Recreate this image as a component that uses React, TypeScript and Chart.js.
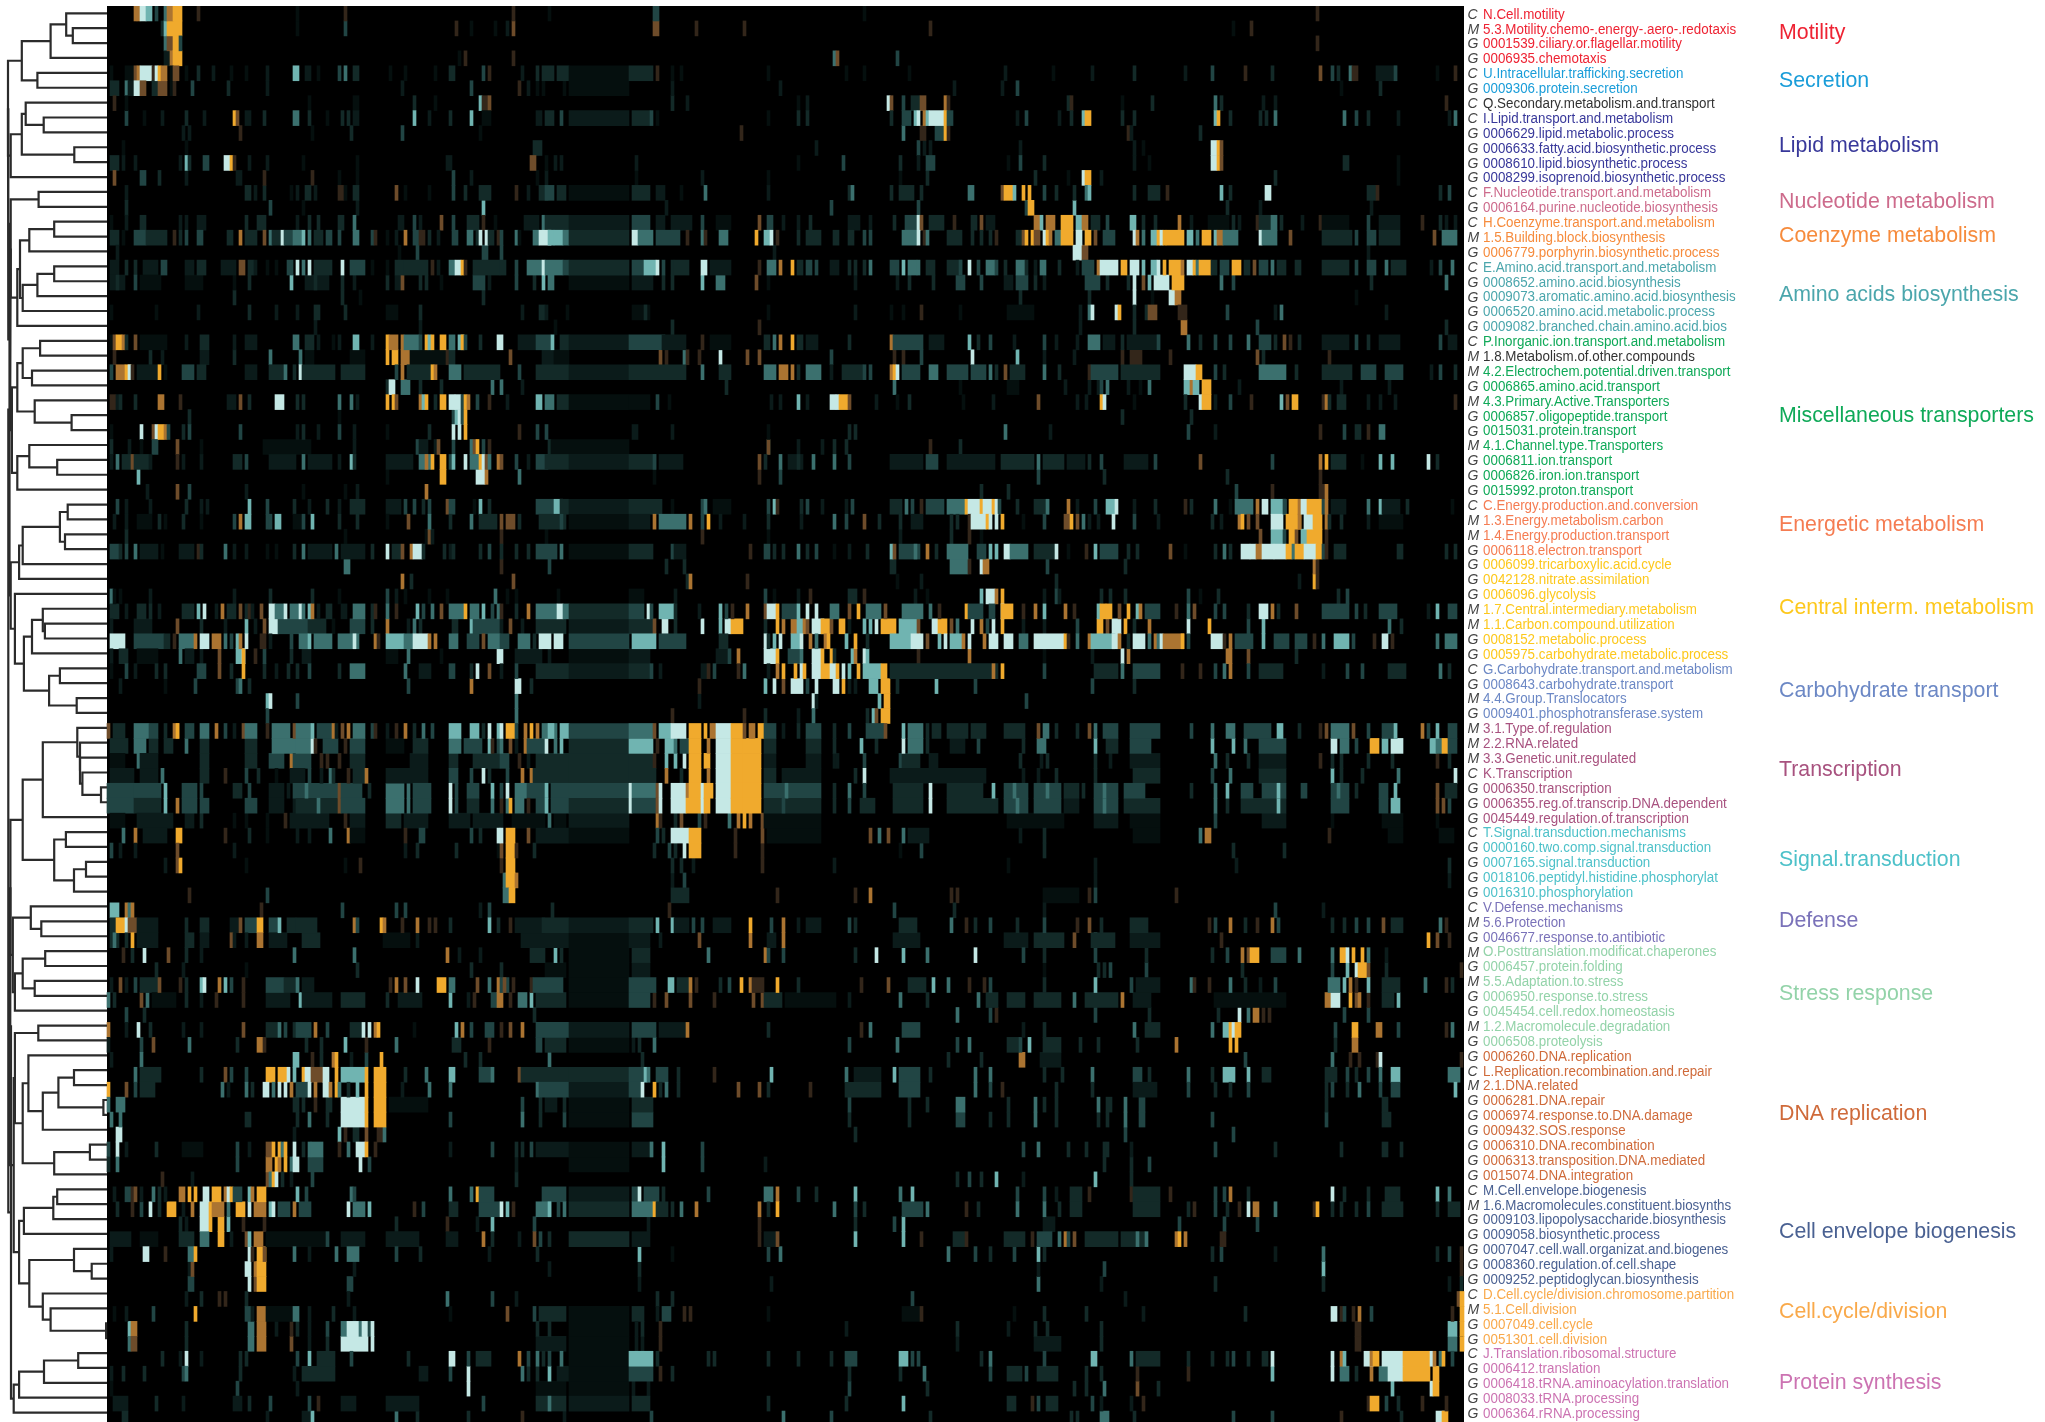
import React, { useEffect, useRef } from "react";
import { Chart, registerables } from "chart.js";

Chart.register(...registerables);

// ---- row labels ----
const rowTypes = "CMGGCGCCGGGGCGCMGCGGGGCMMGMGGMGGGCMMGGGGMMGGCGMGMMMCGGGCGGGGCMGMGMGGMGGCMGGGGGGCMGGGGGCMGGCGGGG".split("");
const rowNames = [
  "N.Cell.motility","5.3.Motility.chemo-.energy-.aero-.redotaxis","0001539.ciliary.or.flagellar.motility","0006935.chemotaxis",
  "U.Intracellular.trafficking.secretion","0009306.protein.secretion","Q.Secondary.metabolism.and.transport",
  "I.Lipid.transport.and.metabolism","0006629.lipid.metabolic.process","0006633.fatty.acid.biosynthetic.process","0008610.lipid.biosynthetic.process","0008299.isoprenoid.biosynthetic.process",
  "F.Nucleotide.transport.and.metabolism","0006164.purine.nucleotide.biosynthesis",
  "H.Coenzyme.transport.and.metabolism","1.5.Building.block.biosynthesis","0006779.porphyrin.biosynthetic.process",
  "E.Amino.acid.transport.and.metabolism","0008652.amino.acid.biosynthesis","0009073.aromatic.amino.acid.biosynthesis","0006520.amino.acid.metabolic.process","0009082.branched.chain.amino.acid.bios",
  "P.Inorganic.ion.transport.and.metabolism","1.8.Metabolism.of.other.compounds","4.2.Electrochem.potential.driven.transport","0006865.amino.acid.transport","4.3.Primary.Active.Transporters","0006857.oligopeptide.transport","0015031.protein.transport","4.1.Channel.type.Transporters","0006811.ion.transport","0006826.iron.ion.transport","0015992.proton.transport",
  "C.Energy.production.and.conversion","1.3.Energy.metabolism.carbon","1.4.Energy.production.transport","0006118.electron.transport",
  "0006099.tricarboxylic.acid.cycle","0042128.nitrate.assimilation","0006096.glycolysis","1.7.Central.intermediary.metabolism","1.1.Carbon.compound.utilization","0008152.metabolic.process","0005975.carbohydrate.metabolic.process",
  "G.Carbohydrate.transport.and.metabolism","0008643.carbohydrate.transport","4.4.Group.Translocators","0009401.phosphotransferase.system",
  "3.1.Type.of.regulation","2.2.RNA.related","3.3.Genetic.unit.regulated","K.Transcription","0006350.transcription","0006355.reg.of.transcrip.DNA.dependent","0045449.regulation.of.transcription",
  "T.Signal.transduction.mechanisms","0000160.two.comp.signal.transduction","0007165.signal.transduction","0018106.peptidyl.histidine.phosphorylat","0016310.phosphorylation",
  "V.Defense.mechanisms","5.6.Protection","0046677.response.to.antibiotic",
  "O.Posttranslation.modificat.chaperones","0006457.protein.folding","5.5.Adaptation.to.stress","0006950.response.to.stress","0045454.cell.redox.homeostasis","1.2.Macromolecule.degradation","0006508.proteolysis",
  "0006260.DNA.replication","L.Replication.recombination.and.repair","2.1.DNA.related","0006281.DNA.repair","0006974.response.to.DNA.damage","0009432.SOS.response","0006310.DNA.recombination","0006313.transposition.DNA.mediated","0015074.DNA.integration",
  "M.Cell.envelope.biogenesis","1.6.Macromolecules.constituent.biosynths","0009103.lipopolysaccharide.biosynthesis","0009058.biosynthetic.process","0007047.cell.wall.organizat.and.biogenes","0008360.regulation.of.cell.shape","0009252.peptidoglycan.biosynthesis",
  "D.Cell.cycle/division.chromosome.partition","5.1.Cell.division","0007049.cell.cycle","0051301.cell.division",
  "J.Translation.ribosomal.structure","0006412.translation","0006418.tRNA.aminoacylation.translation","0008033.tRNA.processing","0006364.rRNA.processing",
];

// ---- functional groups ----
const groupNames = ["Motility","Secretion","Lipid metabolism","Nucleotide metabolism","Coenzyme metabolism","Amino acids biosynthesis","Miscellaneous transporters","Energetic metabolism","Central interm. metabolism","Carbohydrate transport","Transcription","Signal.transduction","Defense","Stress response","DNA replication","Cell envelope biogenesis","Cell.cycle/division","Protein synthesis"];
const groupColors = ["#ee2333","#1a9dd9","#38389a","#cd6b8c","#f68b3c","#4ba6ac","#0fa958","#f57c52","#fdc81c","#6c88c5","#a8527f","#4dc1c9","#7a72b9","#93d3a9","#cf6a3a","#4a6192","#f9a94a","#cc73b2"];
const groupFirst = [0,4,7,12,14,17,22,33,37,44,48,55,60,63,70,79,86,90];
const groupLast = [3,5,11,13,16,21,32,36,43,47,54,59,62,69,78,85,89,94];
const groupLabelRow = [1.3,4.5,8.85,12.6,14.9,18.8,26.9,34.2,39.75,45.3,50.6,56.6,60.7,65.6,73.6,81.5,86.9,91.6];
const uncoloredRows = [6, 23];

// ---- heat levels: teal a..g, brown to orange n,m,l,s ----
const levelColors: Record<string, string> = {
  a: "#050f0e", b: "#0b1b1a", c: "#132a28", d: "#214544", e: "#3b706e", f: "#70b4b1", g: "#c5e8e5",
  n: "#33261a", m: "#6e4c2a", l: "#ab7431", s: "#f0aa2d",
};

// ---- heat values, one string per row: column[-column]level ----
const heatRows = [
"9l 10l 11-12g 13-14f 16d 19e 20-21l 22-24s 30n 63a 79n 135n 147a 182-183d 252a 403n",
"18c 19f 20-24s 63a 79d 116n 121a 129a 133b 135m 182-183m 196n 212n 274n 375a 381n",
"19e 20-21m 22-23s 24d 403n",
"19-20b 21l 22-24s 117a 119n 135n 242e 243m 263d",
"1a 6-8a 9m 10l 11-14g 15n 16g 17s 18-19l 21a 22-23m 26a 30c 35b 41a 46a 53b 62-63f 66-67b 70a 77d 79e 82-83c 94a 99a 109a 114-115c 125d 127n 138b 143c 145-148c 150-153c 154-173a 174-181c 183n 188a 191a 220a 246a 252a 267a 299b 315a 328b 342c 359b 368d 379n 388c 404m 408d 410c 414e 415-416n 423-429b 429d 443a 449n",
"1-3c 6e 7-8b 9-10g 11-12m 15-16c 17-19m 21a 22n 28d 40c 53b 98b 121d 137n 140b 143a 145a 152a 154-173a 188b 224b 282b 298b 303d 411a 424c",
"2n 6a 67a 82-83a 102c 109a 124f 125-126n 127m 188c 193b 230a 233b 260g 261m 265d 268-270c 271-272m 279l 280n 320c 321n 338a 348c 369e 371c 385b 389b 446n",
"6d 12a 18b 26c 32b 42s 43m 46-47b 52c 62-63e 67c 73a 78c 80c 82-83b 102f 107b 114c 121f 125-127a 143-144b 146-148c 151d 154-173b 175-180c 181d 183a 220a 230c 233c 261c 265-267d 269f 270g 272l 273f 274-278g 279s 280-281d 303b 306d 317b 321c 325f 326-327s 338c 342c 369f 370s 374c 384c 386c 389e 412e 416d 420c 430b 447b 449e",
"25b 27b 44n 68a 81c 98d 124a 211n 265e 271-272n 276-278d 279s 280n 340n 341b 364c",
"5a 26a 142-144c 236b 270d 272b 274b 304b 342b 345a 368-369g 370s 371m",
"1-3c 5b 9b 24b 26f 27c 32-33d 39-40g 41s 42n 47b 53b 65a 83a 113-114b 141-142m 146a 149b 151b 176b 230a 245d 264c 270b 273-275d 300a 304d 312c 342b 347a 368-369g 370s 371m 412-413c 430a",
"2m 11-12d 17c 26b 43-44b 52n 68n 77a 83a 115d 121b 143a 146b 176a 198b 220a 264a 273c 309c 320a 325g 326-327s 331b 389c 430a",
"6b 46-47c 49b 52c 61a 63b 66-67c 69b 77-78n 79a 82-83c 96m 99a 107a 115d 119c 124-127c 136n 140b 144-146c 146-148d 150-152c 154-173a 175-180c 183-185b 191a 199e 220b 247c 248e 261c 264-268c 271c 287-288e 298m 299-301s 302f 305s 307s 312d 316c 322c 326e 327f 342c 347-350c 353n 371f 374c 386-387g 420-422c 423n 444c 447d",
"6c 54d 65a 83b 125f 186b 241d 270d 306d 307-308s 322f 373c 384b 421b",
"1a 6b 11-12c 24b 26b 30-32b 46c 50-52c 63b 67c 70c 77-78c 82e 97-98b 102d 104b 111m 115d 120-123c 125n 129a 139-143b 145e 146-153c 154-173b 175-180d 183-185b 188-194b 198d 203-207a 217m 220-221d 225b 230b 234c 247-250b 254b 262c 266-269d 270g 271m 274-278c 282n 288-289c 291m 293-295b 309-310l 311f 313-315l 318-321s 323-324f 325-326l 328-330c 333d 341-342f 345c 349c 357l 361b 367-373a 375c 377b 383n 384-387c 388-389e 391c 398b 404n 405-413a 420d 424-430b 438n 444c 446b 449b",
"1-3c 5a 9-12d 13-19c 22n 24c 26d 30-31d 40-41c 44l 46-49c 52m 54e 55-57c 58g 59-61d 62-64e 65f 67e 69-71c 73-74d 77d 82-83e 88d 89n 93a 96b 99l 102-103d 104-105n 107c 110b 115-116d 120-121e 123c 124g 126g 127-128c 130n 131d 136e 137a 142-143e 144-147g 147-148f 149-151f 152-153e 154-173c 175-176g 177-181e 183-190d 193n 198e 199n 204-206e 216s 219-220f 221g 223n 230c 233-237c 242-243c 247-248c 252d 254d 265-269e 270g 272n 273e 280-284c 288c 291c 294c 296n 303-304c 305m 306s 308s 309-310m 312g 313s 314l 316-317e 318-321s 323-324g 326-327s 329m 332-335d 342g 343l 345e 348-349f 350s 351g 352s 353-358s 360-361f 363e 365-367s 369f 370-371l 372-376e 384g 385-389e 394m 405-414c 416d 420-422d 424-430c 442m 445-449e",
"3b 97a 103d 125-126d 131d 222b 322-324g 325-326m 420b",
"1-3b 6c 9c 12-16b 18-19d 26-28b 30-32c 38-42b 44-45m 47-48c 49b 53a 56a 60-61d 63g 65e 67g 69-74c 78g 81-85d 88a 93a 96-98c 99-106c 108n 110b 114-115e 116-117g 118s 119n 122-130c 131-132c 136d 140-144e 145g 146-151e 152-153d 154-173c 175-178d 179-182f 183g 185d 188c 189-193c 198-199g 201-207b 217n 220-222e 224l 228s 230-231c 233-234d 236d 241-243b 247c 249c 252c 254e 261-263d 265f 267-269e 270e 273-275c 280-284c 284d 287g 290d 293-295e 296d 299c 303-305e 306c 309b 311-312e 317c 323b 325-328d 330l 331-336g 338-339s 341-343g 345f 348-349f 350g 352s 354-357s 358l 360-361g 362s 363e 364-367s 368-369c 371-373d 375-377s 379-380c 382m 384-386d 388e 390-392c 396-397c 405-413c 416d 420-422d 426e 428-432c 441b 444d 448e",
"1-5b 3c 9d 11-17a 26-31a 42a 47c 61f 66-73b 69c 78c 82b 93c 96-97b 98m 104c 106c 111a 122-125d 127b 136d 142c 145f 147-148e 154-173a 175-181b 185c 188c 198f 203-205e 216m 220a 249b 263b 267c 275c 283-285d 291d 299-301b 303-306d 309c 312b 326-330d 333c 340c 342g 345m 347f 349-353g 355-358s 371e 375d 421c 446e",
"42c 78c 84a 125c 304c 327c 342g 348a 354-355g 356-357l 416a",
"1a 16a 30b 47c 56b 63b 69-70c 79c 93-96a 104c 138b 144-145c 146b 153a 175-180a 179c 220a 249b 261a 265a 271n 284a 300-308a 324b 327e 328g 336g 337s 342c 346c 347-349m 357-359n 373d 389b 391e 426b",
"69b 104b 149a 188c 217n 324b 342c 358-359l 383d 446c",
"1a 2m 3-4s 5l 6c 9m 11-19a 26b 31-33c 42b 46-49b 62-63e 66-68c 70b 75a 77b 82-83f 88b 93s 94-96l 98l 99-103e 104d 106s 107f 108s 111-112s 114-115e 117-118f 118s 119d 124c 130-131g 137-142b 143-147d 148f 151-153c 154-173b 174-185d 185-192b 198n 201-207a 219-220c 222e 224l 228s 230-231c 233-236b 247c 261l 262-271d 274-278b 287f 290c 294d 302b 312d 316b 323b 327-330e 332-335b 338c 340-350b 350d 360e 364c 369d 374d 380e 384-387d 389c 392m 394n 397c 405-413b 416d 420c 424-430b 444d 447-449b",
"2n 14c 18b 31-33b 42c 54e 64e 66-68a 81-85a 93s 95-96s 98-100l 101-112a 113n 114-115c 134m 145-148b 149-153a 184m 186n 192e 193n 197n 204g 213m 217m 241d 262n 265n 271d 288g 303f 312b 322b 338n 341-344n 354n 383m 385c 407n",
"1d 3-5l 6-7s 7g 8n 10-16b 17s 19a 25-28d 30-32c 46-49b 54-58c 59e 62c 64g 65-75c 78-85c 96d 98l 100-107c 108s 109l 114-117e 119-130c 137d 143-153c 154-173b 174-192c 198e 204-207c 219-222e 224-226l 228l 230c 233-237e 241b 245-251c 252d 254d 261l 262s 263g 265-270d 274-276e 280-286d 288-292d 294e 296c 299m 301-305c 312e 317c 327n 328-336d 338-350c 359-362g 363-364s 369d 372c 384-392e 396c 405-414c 418-422d 426-431d 441b 444d 449c",
"93c 94-95g 98-100e 104c 111c 128e 131e 138b 206c 262e 284a 300-303a 319b 327b 330b 331d 333e 340b 344a 347e 359-360f 361l 362-363f 365-367s 377b 411b 427b",
"1-2n 3b 4c 9c 17-18l 24n 40-42b 44m 47c 56-58g 63c 65c 77e 81e 83b 93s 95s 96m 104l 105f 106s 109c 111-112s 114-115g 116-117g 118d 119s 120l 123d 127n 133b 143-144f 146-148e 150-153c 154-173a 174-180a 183d 187a 221b 224b 230f 233b 241-242g 243g 244-246s 247m 256b 263a 267c 285a 295b 310m 323b 326b 331s 332g 342a 359c 364g 365-367s 369b 374d 381n 391f 393m 395-396s 405n 406l 407c 410-412c 420b 424b 429b 449n",
"27c 77a 115d 116f 117g 118d 119s 338c 361c",
"1a 11g 15m 16g 17-18s 19l 20d 25c 27d 44d 63b 65c 70b 77d 82b 93a 107c 115g 117g 119s 137n 143d 146d 175-176b 188b 220a 247c 249c 299e 314b 360d 369b 404n 412d 416-417c 420n 424-425e",
"1c 7b 11a 15-16d 23m 31a 52-67a 82b 103d 104-106b 109b 110m 115d 121e 122m 123s 125d 127n 147c 148-173a 220d 220m 230b 238b 242c 246c 274n 284c",
"1b 3e 5-7c 8m 9-13c 14b 23n 25b 31b 42-44c 46d 54-62b 65e 67-74b 77b 81f 82c 93-101b 104-107e 106l 108s 111-112s 114d 115f 119g 121-123e 124s 125g 126m 127e 130l 131m 136d 140b 143-146d 146-153c 154-173b 174-182c 182d 184-191b 217m 219c 224e 227-231b 230c 235e 242e 247d 261-271b 273-276d 280-295b 298-308c 310e 312-318c 320-325b 327c 331d 339-346b 349d 364m 388d 404l 406s 408-412c 418a 424f 428f 440g 443c",
"10f 93a 111-112s 123-125g 126l 137e 182a 217n 224d 310d 332c 373c 404n",
"13b 23m 27d 46b 65a 79a 83b 106l 291c 300c 376d 388n 404-405n 406l",
"3d 6b 14b 26c 31b 33b 47f 53d 62c 67b 73c 77b 81-85c 93-97b 99d 102d 105c 107d 113m 114-115d 122a 124f 127c 143-148d 149-151f 151-153c 154-173b 174-184c 188a 198d 199e 202-207a 220d 222f 223n 231c 233d 238b 246b 248d 261-264c 266e 268d 271n 273-278d 280-285e 286s 287-290g 291s 292-294g 295s 296g 297d 303c 309-313c 313e 320l 323b 329d 333-335f 336g 342b 349c 359n 361c 369e 389e 374a 376-381e 383l 385-386g 388-392f 392d 394-396s 397l 398-399g 400-404s 405d 406l 408-412b 420e 424f 425-430b 433c 448a",
"2b 6b 10-14a 17c 19a 25c 31a 42d 44l 46-47f 53d 54d 56-57f 62-64a 65d 68f 77c 83c 93a 100m 107e 114c 121e 124-129c 131m 133-135m 137c 144-152c 151d 154-173a 174-180b 182l 184-192e 194l 198d 200s 204b 212b 220c 231b 242e 246d 252m 257c 264c 268-271b 281c 283c 287n 288-292g 293s 294g 296g 298s 305a 312d 319-320m 321s 323m 325e 327b 330b 335g 342d 350b 368c 371b 377l 378s 380m 383m 388-391g 393-397s 397l 399-401g 402-404s 406l 407c 411c 420b 424-431a",
"6c 79a 106a 107m 108b 131n 146a 198n 220a 264b 281c 287n 291a 384m 388-391f 392d 394-395s 396m 398-399f 400-404s 406n",
"1-3d 4c 6d 9e 11-16b 18a 24-28b 30n 31c 39e 42b 46b 53a 56a 62c 65e 67-74b 76e 78-85b 88c 93g 95-97c 98m 101l 102-104g 105c 112c 114b 115c 124c 127d 131c 136c 140c 143-149d 151e 154-173a 174-181c 188d 189-192b 214n 219-220d 222c 225c 230e 233c 236d 242a 247b 253c 261f 262m 264-270d 269e 273l 276c 280-286e 290-292d 294f 296f 299-300g 301-306e 309-315c 316g 320a 326n 329f 331-336d 340c 343c 354m 359a 369c 372e 374c 378-380g 381-382g 383-384l 385-388g 389-392g 393-394s 395e 396-398s 399-402g 403-404s 405d 406n 409-412c 430-431c 446c 449c",
"79-80e 131n 147d 186c 192c 261-262c 281-286e 287n 291g 292-293l 313d 339c 402l 403n",
"98l 101c 135m 193c 194l 213n 263a 271b 316c 397b 402s 403n",
"1e 2a 4a 14b 42b 54c 68c 77a 93d 96b 99a 107a 113a 129e 133a 136a 150a 174-178a 189b 219d 222a 230b 234n 247-249c 252n 269b 273a 291f 293-295g 296l 298s 312b 316d 317b 331c 334c 339c 360d 364a 370c 410c 413d",
"1-3c 6b 10-12c 14c 17b 25-28c 30f 32g 36b 38l 40-42c 44m 46c 47n 48b 51m 54-55g 56-58e 59g 61-63e 64g 65e 67f 68l 70b 73-74c 78-79b 82-85e 88c 89n 93e 96n 103f 105d 108e 111m 114-118e 119s 121-123e 125f 128d 130e 131n 136c 140l 143-149e 150-151g 152-153e 154-173c 174-178d 180g 181d 184-188f 189c 197b 204f 206d 208n 213l 219m 220-222g 223s 225-229d 230f 233g 236g 241-243e 247m 250s 253-257e 259m 265-271e 274e 277n 286s 287-291d 294-295d 298g 298-301s 305n 309l 312f 319l 322n 330f 331-332s 333-334s 337m 340s 343f 344l 346-350d 356n 360e 362m 369d 372d 380c 384-386g 388l 390c 396m 405-413d 416d 419c 424-429d 440b 443f 447-449d",
"1b 9-14b 23m 31c 39b 46f 49b 52m 54-56g 57-66d 67-72c 75a 81-85d 88c 93l 100b 102e 104c 115-116c 121f 122-130d 131b 134m 138b 143-152c 154-173b 174-181c 182m 185-186g 189c 198g 204f 206-207g 208-211s 219c 223s 225l 228-229l 230-231f 232l 233m 235-238g 238-240s 241m 244-245s 247b 252f 254f 256g 258-262s 264-269f 270m 275-276g 277-279s 281m 283e 288g 291l 293d 295g 298s 305b 312b 323d 330-331s 333m 335-337g 339s 342c 347l 360g 367s 380d 385f 427e 431c",
"1-5g 9-18d 19-20c 22n 24-28e 29l 31-33g 35-37l 39e 41d 43f 44l 46g 51-52n 54b 61d 64-66e 67f 69-74e 77-83e 82g 89l 90n 93-98f 99-102e 102-106g 107l 109l 114-116e 120-123d 125m 127-130e 131-133d 137-140e 142c 144-147g 149-151g 154-173d 175-182f 184-192d 204-206c 219g 220c 222f 224g 228-230f 231g 234l 236e 239l 240s 246f 249s 253c 261-267f 268-270g 271g 273m 277f 279g 281-284f 285l 287g 292l 294-296g 299-301g 304-306e 309-318g 319s 320n 323e 327l 328-335f 335-336g 337l 340c 342-345g 347e 349l 350e 351g 352-358l 358s 360d 368-371g 372n 374l 376-381d 385f 389-393d 396-399d 402n 405e 409-413f 415d 422n 425-426g 428n 443e 446-449e",
"1b 4-6c 10-16a 24e 26-28b 31b 37m 43-44f 45g 45s 49n 52d 61c 65-67b 93-96a 100e 111a 130g 131g 136-144b 147b 154-173a 174-180b 203-206b 207d 210l 219-222g 223s 227-230d 231e 235-237g 238s 241s 242c 248f 249l 252g 253f 270n 287l 338g 340l 328b 373-374l 380m 312a 396c",
"1a 6d 9b 16c 19c 30-32d 37m 41c 45s 52c 56b 60c 63c 67d 77c 81-85e 99e 104-107b 114-115d 121c 123g 127m 131b 136d 143-153c 154-173b 174-180c 181d 184b 198-200b 200n 202d 210n 212e 220b 223l 225s 229s 231g 232s 235-237g 238-240s 241-242g 243s 245g 247f 250s 252-257f 258-259s 261-296c 295l 298s 312d 329-336c 338e 342-350d 358n 364n 369d 372e 374l 380d 384-391c 405b 413d 418d 427-432c 444e 447c",
"4b 19a 29d 43d 44e 47c 100d 121l 136-137g 141c 197n 219f 222g 225m 228-231g 233d 236g 242-243g 245s 247b 249b 254-256f 258-260s 263c 276f 289d 328d 342c",
"53f 54g 63d 136e 197b 235g 236b 257f 259-260s 306d",
"53d 136e 188n 212n 219c 230b 235e 253c 255f 256m 258-260s",
"0m 2-5c 9-13e 14-16d 19c 22-23l 23s 26-28d 31-33e 36l 39d 42b 45m 46-49e 53n 55-60e 62m 63-67e 68f 70-74d 75l 76b 78m 80l 82-85e 88d 89n 93b 96n 99l 102c 105e 108d 114-117f 121-123f 125c 127g 130f 131g 133-135s 136d 139l 141s 143l 145-149e 147-148f 151-153f 154-173d 174-181e 182m 184-187f 188-192g 194-197s 199s 201l 202l 203-207g 208-211s 212m 214l 215l 217-218s 219-222d 225b 230c 233-237d 242c 247d 253-258d 259m 265f 267-271e 273c 275-277c 280-286c 288-292c 299-305c 310m 312-313e 316c 323c 327m 329e 332-336d 341-350d 361d 368e 373-375e 379-387d 390-391f 397c 404n 406m 408-413e 415m 420d 425-429d 429f 438l 440d 443f 447-449d",
"1-6c 9-12e 14-16c 19-21c 26e 31-33c 46-49c 55-62e 63-67e 68g 69n 72-76d 79n 81-85d 93-98a 102-106c 114-117e 119-124d 127f 128n 130d 131e 134m 136b 139l 140-145d 146g 149e 151f 154-173c 174-181f 183n 186-188f 189e 191-193d 194-197s 200l 203-207g 208-211s 212-217s 219-222c 233-237c 242c 273c 251f 256c 265g 267-271e 281-285b 290d 305c 310-312e 329f 333-336c 341-347d 368f 375f 379e 384-392d 408-409g 411-413e 416d 421-423s 425-426f 428-431g 441-442f 443-444e 445-446s 447-449d",
"1-5a 10e 11-16b 31-33c 46-49c 54-58d 61l 62-67d 71n 73n 77n 81-85c 101-106b 114-116c 122-130c 131-133d 137n 140b 143-153c 154-173c 174-181c 182n 186f 189f 192g 194-197s 199-200s 203-207g 208-211s 212-217s 219-222b 233-237b 242b 243b 252d 264d 265-270c 274-276b 304c 311b 313c 329c 334b 341-350b 369e 373c 380c 384-392b 404n 408c 411c 420c 428c 443n 447c",
"1-8b 11-16b 18e 31-33c 39n 46d 50c 56a 61-65b 67d 71b 74e 75c 80n 82-85c 86l 93-106b 114-116d 121d 125g 127c 133d 138l 141l 142-153c 154-173c 174-182c 186l 191c 194-197s 200l 203-207g 208-211s 212-217s 219-222c 225-237b 249c 252g 261-292b 305b 310b 316c 329c 342-350c 368d 374e 384-392c 408f 411c 418c 430e 449g",
"0-8d 9-17d 19f 25-29d 31d 42-44c 47d 54-58b 60b 62-76d 66e 77m 78-84d 87c 93-98e 100e 102-107d 114g 116d 120-123d 128f 131d 133g 136-139e 140-146d 146f 148-153d 154-173d 174g 175-182e 183m 184g 188-192g 193l 194-197s 198g 199-201s 203-207g 208-211s 212-217s 219-237d 226e 242c 247e 252d 262-271c 274g 280-291c 295f 299-306d 302e 309-317d 313e 319-323c 325c 329-336d 332e 339-345d 361c 369e 373f 378-381d 385-392d 390f 398-399d 408-413d 410e 416c 424-426d 429f 443m 446-449c",
"0-8d 9-17c 19f 23l 25-29d 31-33d 46-49d 54-58b 62b 63-76c 70e 77m 78-85d 93-98e 100e 102-107d 114g 116d 120-123c 128e 131n 133e 134s 136-138e 140n 143-146d 146f 148-153d 154-173c 174g 175-182d 183m 184g 188-192g 193-197s 198g 199-200s 203-207g 208-211s 212-217s 219-237c 225d 242c 247d 251-255c 262-271c 274g 280-296c 299-306d 303e 309-317d 319-323b 329-336d 332e 339-350c 369e 373c 378-392c 390f 408-413d 424-426d 428-430f 443m 445m 447d",
"1-5a 10-21b 26-28b 31c 42a 46a 53a 59n 61-73b 79n 81-85b 93-97c 99-106b 114-120b 122-131b 135-145a 147e 149-152a 154-173b 183l 184n 189c 191m 197d 199n 207e 210l 212s 214l 218m 219-237a 300-318a 329-336b 341-350a 369d 385-392b 408a 425-431a 443a",
"5e 9l 12-19b 23-24s 39n 47c 53a 63b 67b 74e 80l 81-85a 99n 104-105d 121d 124c 130g 131g 133-135s 140m 143-153b 154-173a 183d 185c 188-193g 194-197s 209n 218m 220-237a 254m 257e 260m 265e 267-273b 304b 312c 342-350a 364e 366-367l 407n 427-431a 444-448a",
"1d 4b 9b 23m 42b 99b 103c 116c 130a 131m 133-135s 136n 142c 182c 187d 189c 192g 194-197s 209n 218n 264a 271d 312c 375c 392c",
"19b 23m 24s 46a 79a 84n 131n 133-135s 188c 191c 195b 218n 242b 300a 329b 376b 447c",
"132-133e 133-135s 136l 188b 192d 329b 447b",
"27n 53d 132-133e 134-135s 188-193c 223n 249n 254l 281n 283n 312-323a 327n 329d 356n",
"1-3f 6l 7e 8l 51n 78d 96d 99d 124b 127d 148c 187n 262d 282c 312b 389d 405b",
"1-3c 3-5s 6g 7-9m 10-16b 26c 31-33c 41-43b 44m 46-49d 50-51s 54-56d 57f 60-62c 63-69c 82l 83d 91s 92l 98n 103l 107n 109n 114c 127f 130c 134n 136-145b 145-153c 154-173b 174-181c 183f 188f 189-193b 195d 198d 202-207b 214s 221d 225l 230b 233-237b 247d 249c 264-269c 281e 286n 289c 294d 303c 312d 323n 327m 331c 341-346c 367n 369d 374l 379c 383n 388l 390d 408c 412c 416d 420d 425m 428-431c 446n 444e",
"1-3c 2e 6c 8s 10-16b 26-28c 31-33b 41m 42b 46b 50-51l 54-59b 65-70c 92-100a 103b 138-153b 154-173a 174-180b 184b 197m 214l 220-222b 225l 262-270b 299-306b 309-318c 322m 329e 328-335c 341-350b 371n 440s 443m 447n",
"5n 8c 12g 20m 26c 31b 62e 82e 113l 117b 124b 141-145c 149f 151c 154-173a 175-180c 200e 219l 220d 225d 249c 256g 265f 273e 289g 305d 312c 329d 346c 368c 373d 378l 380m 381-383s 388-392d 397e 408e 411-412s 413g 415s 418s 420e 426b",
"16c 25b 46a 83c 121c 131c 146-152a 154-173a 175-180b 312a 330c 332c 334d 346d 378c 408d 413f 416g 417-419s 420m 426c 451n",
"1b 4m 6b 9d 11-16c 17m 24n 26c 31f 32g 37l 39f 41d 45n 53-58d 59-63c 63e 65-68b 94n 96l 99m 103g 110-112s 114-115e 123m 127e 130l 131-133d 132m 135n 141n 142-151d 154-173a 174-182d 187-188f 190-193c 194l 196n 204c 207d 211s 214l 215-218n 223s 230c 251n 260m 267-272c 275f 280e 287n 292n 294d 312c 329f 341d 343-350b 361e 362n 367n 374e 379c 384b 389d 407-410e 412f 414l 416n 420f 425-430c 439e 446n 448c",
"0e 2c 11m 13e 15-22a 26c 31b 36n 45n 53-60b 64f 65-74b 78-85c 93c 97-104b 114f 120b 122n 128-130d 130l 131l 134n 137-139e 141f 143-152c 154-173a 174-180d 182n 186m 194m 202n 215m 218m 219-224c 226-242a 247b 264e 273c 290e 293-296c 300-305c 309-317c 322e 326-336c 338l 342-347b 369-392a 406-407l 408-410g 414s 416m 417l 420n 425-428c 430f",
"6d 12c 142c 283e 294d 296n 329d 347c 370c 377g 380e 382-383l 385n 387n 412d 420d",
"0l 6b 10g 14c 25b 31b 45m 53-56c 57e 59d 62-67c 63-67d 69l 73d 81-84c 85g 87g 89l 90s 102a 116f 118l 121d 126-128d 131n 134m 138l 143-153d 154-173b 175-182d 184-192b 193l 220c 251n 254e 265-270d 305b 312c 342e 346-350c 368e 372-373f 374s 375g 376-377s 409d 415-416s 423-424l 430d 446n 448e",
"0b 11d 15m 27e 43c 50-51l 52n 66c 71c 79f 86n 96e 115-117c 127n 143-144d 146-152c 154-173a 175b 177c 182e 247d 263e 283d 287e 300-303c 304d 307f 312-317c 324c 330c 343c 356l 374s 376s 409c 415-416l",
"1b 11e 62-63f 68n 71c 75l 76s 81b 86d 91s 119c 124c 147e 178c 280c 291c 304-305l 311-317b 379d 408e 414n 417n 423n 424g 451n",
"9e 11-17c 31c 39m 41d 46d 53-55s 57-59s 60g 62f 65s 66-67g 68-71m 72-73g 76s 78-85f 86s 89-92s 99c 106e 114-115f 124-127d 128e 137m 138-153c 154-173c 174-178d 179f 180e 183-186d 190c 202n 221f 246e 249-257b 262f 264-270d 274c 289e 294e 312c 318c 328e 342-344d 347c 360e 368c 372-375f 380f 385-387c 406-409c 413d 416c 420d 424e 428-430f 447-450e",
"0s 6m 9d 11-15c 38e 40b 46e 48c 52-53g 55e 57g 59g 61l 63-66d 67g 69l 72-73g 74l 76s 77e 80c 83f 86s 89-92s 98b 107e 114e 143e 144-153d 154-173b 174-177d 178g 182s 184c 186e 190c 210m 217m 220c 234n 246-257c 264-270d 289e 294d 298n 316c 328c 342-349b 360d 369c 374c 380d 406c 408d 413c 417e 424d 428-430d 449f",
"0e 3-5e 62-63c 65c 69n 73-74c 78-85g 86s 89-92s 94-106a 138d 144c 146-149b 152c 154-173a 175-181c 247d 267c 273c 283-285e 300c 309e 312c 316c 330e 333-334c 339e 344-345d 406c 425-426c",
"1e 4e 46-47c 63c 67e 73c 78-85g 86s 89-92s 114d 138e 144c 152d 154-173a 175-181d 247c 267c 283-285d 294c 300c 309e 316c 330c 333c 339e 344-345d 368d 406d 425-427c",
"3-4g 62b 77f 79n 82-83c 86m 90-91n 92e 249c 339d 375d",
"0d 3g 6b 16c 25-31a 43d 47b 53-54m 55s 57s 58e 59s 62g 65c 67e 68-71e 77n 80e 83-85g 86s 89n 114b 128d 136c 138c 141d 143-153b 154-173a 175-181b 181e 185f 198d 305d 310e 320c 326c 332c 333c 341b 369d 389c 411c 425-426c 431c",
"0c 3e 43d 53-54l 56s 57l 59s 61e 62-63g 67-71d 84g 87d 136b 154-173a 185f 198d 219b 332c 341c 347d",
"18n 28b 53m 54e 55s 56g 58c 61b 68d 136c 283c 287d 291c 296f 305b 329f 341c",
"2b 6-7d 8n 9m 11b 15e 17c 19b 24-25l 27s 29s 32-33g 35-37s 39l 40g 41s 42-44d 47f 48l 50-52s 63f 66d 81e 82d 114e 121e 123s 124-128d 145-152d 154-173b 175-176d 177g 179-183d 185c 200d 219-221e 223l 230d 236c 249f 264e 268f 303d 312d 316b 321-324c 327n 341n 342-350c 354n 369d 372d 374l 380c 408g 412c 420c 426-430c 443f 447e",
"3c 8n 11d 14g 17c 20-22s 25b 28l 31-33g 34s 35-38l 40e 43-45s 47g 49-52l 54f 55g 57-60d 62l 64-67d 80g 82-85e 87f 102n 105d 114-116c 124-130d 131g 133f 135n 143-147e 147f 150d 152e 154-173c 175-181e 182s 183-186c 188c 191e 196l 217l 220c 223s 242e 249d 252c 265-271d 273e 286n 290c 303e 312e 317c 321-324c 342-350c 360c 362n 369d 373c 377n 380g 382-383l 389e 402n 403s 408c 411c 416c 420d 425-431c 443c 447-450c",
"24c 26b 31-33g 34s 37-38s 40f 45n 52n 96c 113n 123b 128f 142d 180b 217n 249c 262d 265f 312-315b 357d 372d 383d",
"1-7b 11-16a 24-28c 31-33e 37-38s 41b 46m 47f 49-51l 53-73a 73d 78-85b 93-103b 113-116b 125l 128c 137b 142m 144d 147c 154-173c 175-180b 217n 219-223b 223m 249f 265f 271n 282-285c 286n 299-305c 308n 310-314d 317e 319l 320d 322m 326-336c 338-345c 343e 346e 356l 357s 359l 371-372n",
"1b 12-13g 19n 27-28e 29s 47g 48n 50-52s 52m 62e 67b 76e 80-83e 96d 104c 127b 143c 177f 188a 220d 224e 280e 289d 294c 302d 310f 312c 368c 371d 389b 405e 443c 447d 451n",
"27b 28m 46-47g 49l 50-52s 82b 147b 177c 310b 332d 405f 451n",
"27-28d 47g 49m 50-52s 80-81d 177b 221b 310e 331b 369c 405c 447b 451c",
"26b 31c 37n 39n 46c 80b 113e 128d 136b 183c 188c 268d 339b 450m 451-452s",
"2a 6b 15d 29s 46-47d 48b 50-52l 53-63a 62-63e 67b 75c 82b 114a 133m 142d 144-152c 154-173a 175-178c 183b 185-187d 192n 194n 220a 265-270a 271n 302a 312c 326c 345b 379c 408-409g 411n 412d 415n 417l 421d 448n 451-452s",
"7f 8-9l 26c 47-48e 50-52l 56b 61n 63c 67b 73d 78-79e 80-83g 84e 85-86g 87d 88g 143c 147c 154-173a 176b 178c 184n 246b 283c 300b 309c 313c 331c 416-417n 447-449f 451n 451-452s",
"7e 8-9m 26c 47-48e 50-52l 61m 67b 73c 78-86g 88g 143-152b 154-173a 176b 178b 184n 283b 309-317b 331c 416-417n 447-449e 451-452s",
"18c 24b 26g 31b 44c 46c 63d 67f 70-75c 81d 100c 114-115g 120d 123-127c 137l 140d 143e 145c 147d 151e 154-173a 174-181f 183c 200c 202c 220c 230c 241c 246-249d 264-266f 268d 270d 291c 294e 312d 328-329f 341e 343-350c 360c 368c 373c 375d 380c 385-386c 388g 408g 411l 412f 419-421g 421l 422-423s 425-431g 432-440s 441g 442l 444e 445s 448d",
"1b 5c 12c 25d 26e 44c 62b 65-75c 104-106b 114d 120g 138e 140c 143c 147f 150-153b 154-173a 174-181d 184n 188c 247c 264c 272e 294d 300-304c 306d 310-316c 326c 331c 343n 360n 388f 408g 411-413e 416c 421l 424-426e 427-431g 432-440s 442-443s",
"1a 43d 63b 120g 143-152a 154-173a 175b 180b 247d 273c 322c 326c 332e 343m 350c 428f 441g 442-443s",
"2-6b 16c 25b 42-44b 47c 54d 67d 70n 78-82b 93-103b 125d 143-152c 147e 154-173b 175-180c 220c 246c 265f 300-302c 308n 310d 313-316c 328d 331b 341b 345n 420n 421-423s 426d 430c 438n 446n",
"5-6c 53b 65-67b 68f 96e 103c 120c 138n 152b 181d 225e 241d 274c 321c 323c 331-333e 342c 375d 388d 411n 431c 443-445g 445-446s",
];

// ---- dendrogram: [merge height, child, child]; a bare number is a row ----
const motilityTree = [28.4, [18.8, [13.6, 0, [11.4, 1, 2]], 3], [23.2, 4, 5]];
const lipidTree = [32.1, [28.4, [27.1, 6, [21.1, 7, 8]], [10.9, 9, 10]], 11];
const upperTree = [33, motilityTree, lipidTree];
const coenzymeTree = [29.9, [29, [25.9, [17.6, 14, 15], 16], [28.1, [23.2, [17.6, 17, 18], 19], 20]], 21];
const nucleotideTree = [32.1, [22.8, 12, 13], coenzymeTree];
const transportTree = [29.9, [28.1, [22.3, 22, 23], [25, 24, 25]], [24.1, 26, [11.8, 27, 28]]];
const ionTree = [29.9, [25.9, 29, [16.6, 30, 31]], 32];
const midUpperTree = [32.3, nucleotideTree, [31.7, transportTree, ionTree]];
const energyTree = [29.3, [28.1, [15.7, [13.1, 33, 34], [14, 35, 36]], 37], 38];
const centralTree = [30.7, 39, [27.7, [25, [21.4, 40, [20.7, 41, 42]], 43], [19.3, [15.7, 44, 45], [10.1, 46, 47]]]];
const energyCentralTree = [32.1, energyTree, centralTree];
const transcriptionTree = [21.4, [9.9, 48, [9, 49, [9, 50, [8.2, 51, [2, 52, 53]]]]], 54];
const signalTree = [17.6, [13.7, 55, 56], [11, [7, 57, 58], 59]];
const regulationTree = [28.1, transcriptionTree, signalTree];
const stressTree = [31.4, [25.4, 60, [21.9, 61, 62]], [30.7, [28.1, [20.6, 63, 64], [24.1, 65, 66]], 67]];
const repairTree = [30.7, [22.9, 68, 69], [28.1, [26.2, 70, [21.4, [16.2, [11, 71, 72], [1.2, 73, 74]], 75]], [17.6, [5.7, 76, 77], 78]]];
const envelopeTree = [29.3, [27.7, [17.9, [16.6, 79, 80], 81], 82], [25.9, [11, 83, [5.1, 84, 85]], [21.4, 86, [18.8, 87, [0.3, 88, 89]]]]];
const proteinTree = [31.1, [29.3, [21, [9.6, 90, 91], 92], 93], 94];
const rootTree = [32.9, [32.5, [32.9, upperTree, midUpperTree], energyCentralTree], [32, [32.3, [32.2, regulationTree, stressTree], [31.1, repairTree, envelopeTree]], proteinTree]];

// ---- build ----
const COLS = 452.33;
const parseRow = (s: string) =>
  Array.from(s.matchAll(/(\d+)(?:-(\d+))?([a-z])/g)).map((m) => {
    const a = +m[1];
    const b = m[2] ? +m[2] : a;
    return { range: [a, Math.min(b + 1, COLS)], color: levelColors[m[3]] };
  });
const parsedRows = heatRows.map(parseRow);
const maxSegs = Math.max(...parsedRows.map((r) => r.length));

const heatDatasets: any[] = [];
for (let k = 0; k < maxSegs; k++) {
  heatDatasets.push({
    indexAxis: "y",
    xAxisID: "x",
    yAxisID: "y",
    order: 2000 - k,
    grouped: false,
    barPercentage: 1,
    categoryPercentage: 1,
    borderWidth: 0,
    data: parsedRows.map((r) => (r[k] ? r[k].range : null)),
    backgroundColor: parsedRows.map((r) => (r[k] ? r[k].color : "#000")),
  });
}

const dendroDatasets: any[] = [];
const walk = (node: any): { y: number; h: number } => {
  if (typeof node === "number") return { y: node, h: 0 };
  const a = walk(node[1]);
  const b = walk(node[2]);
  const h = node[0];
  dendroDatasets.push({
    type: "scatter",
    xAxisID: "x",
    yAxisID: "yD",
    order: 0,
    showLine: true,
    pointRadius: 0,
    borderWidth: 2.2,
    borderColor: "#2b2b2b",
    borderJoinStyle: "miter",
    data: [
      { x: -a.h, y: a.y },
      { x: -h, y: a.y },
      { x: -h, y: b.y },
      { x: -b.h, y: b.y },
    ],
  });
  return { y: (a.y + b.y) / 2, h };
};
walk(rootTree);

const rowColor = (i: number) => {
  if (uncoloredRows.includes(i)) return "#333333";
  const g = groupFirst.findIndex((f, k) => i >= f && i <= groupLast[k]);
  return groupColors[g];
};

const heatBackdrop = {
  id: "heatBackdrop",
  beforeDatasetsDraw(chart: any) {
    const { ctx, scales, chartArea } = chart;
    const x0 = scales.x.getPixelForValue(0);
    const x1 = scales.x.getPixelForValue(COLS);
    ctx.save();
    ctx.fillStyle = "#000000";
    ctx.fillRect(x0, chartArea.top, x1 - x0, chartArea.bottom - chartArea.top);
    ctx.restore();
  },
};

const drawScaled = (ctx: any, text: string, x: number, y: number, sx: number) => {
  ctx.save();
  ctx.translate(x, y);
  ctx.scale(sx, 1);
  ctx.fillText(text, 0, 0);
  ctx.restore();
};

const labelPlugin = {
  id: "rowAndGroupLabels",
  afterDraw(chart: any) {
    const { ctx, scales } = chart;
    const xType = scales.x.getPixelForValue(453.5);
    const xName = scales.x.getPixelForValue(458.67);
    const xGroup = scales.x.getPixelForValue(557.33);
    ctx.save();
    ctx.textBaseline = "middle";
    ctx.textAlign = "left";
    rowNames.forEach((name, i) => {
      const y = scales.yD.getPixelForValue(i) + 1.5;
      ctx.font = "italic 14px 'Liberation Sans'";
      ctx.fillStyle = "#444444";
      ctx.fillText(rowTypes[i], xType, y);
      ctx.font = "14px 'Liberation Sans'";
      ctx.fillStyle = rowColor(i);
      drawScaled(ctx, name, xName, y, 0.955);
    });
    ctx.font = "22px 'Liberation Sans'";
    groupNames.forEach((name, k) => {
      ctx.fillStyle = groupColors[k];
      drawScaled(ctx, name, xGroup, scales.y.getPixelForValue(groupLabelRow[k]), 0.97);
    });
    ctx.restore();
  },
};

export default function App() {
  const ref = useRef<HTMLCanvasElement>(null);
  useEffect(() => {
    document.body.style.margin = "0";
    const chart = new Chart(ref.current as HTMLCanvasElement, {
      type: "bar",
      data: {
        labels: rowNames,
        datasets: [...dendroDatasets, ...heatDatasets],
      },
      options: {
        animation: false,
        responsive: false,
        devicePixelRatio: 1,
        events: [],
        layout: { autoPadding: false, padding: { top: 6, bottom: 4, left: 0, right: 0 } },
        plugins: { legend: { display: false }, tooltip: { enabled: false } },
        scales: {
          x: { type: "linear", axis: "x", offset: false, min: -35.667, max: 646, display: false, ticks: { display: false }, grid: { display: false } },
          y: { type: "category", axis: "y", offset: true, display: false, ticks: { display: false }, grid: { display: false } },
          yD: { type: "linear", axis: "y", offset: false, min: -0.49, max: 94.9, reverse: true, display: false, ticks: { display: false }, grid: { display: false } },
        },
      } as any,
      plugins: [heatBackdrop, labelPlugin],
    } as any);
    return () => chart.destroy();
  }, []);
  return (
    <canvas
      ref={ref}
      width={2045}
      height={1430}
      style={{ position: "fixed", left: 0, top: 0, display: "block", background: "#fff" }}
    />
  );
}
